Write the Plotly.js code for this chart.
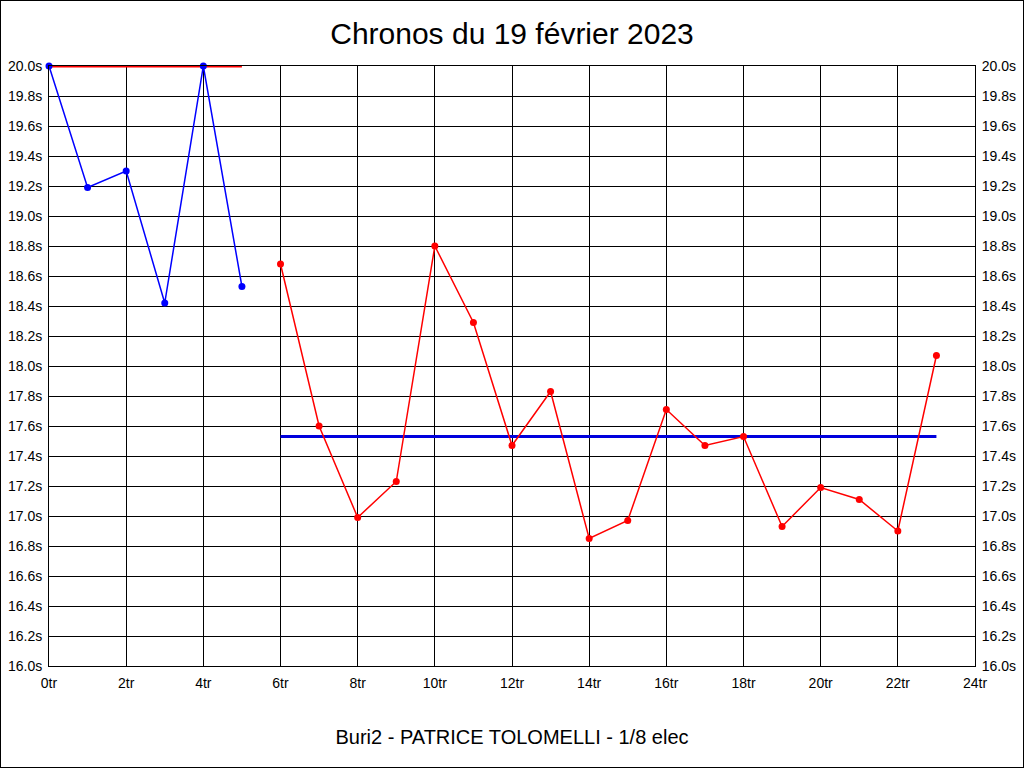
<!DOCTYPE html>
<html>
<head>
<meta charset="utf-8">
<script src="https://cdn.plot.ly/plotly-3.0.1.min.js"></script>
<style>
html,body{margin:0;padding:0;background:#fff;}
#wrap{position:relative;width:1024px;height:768px;}
#chart{width:1024px;height:768px;}
#frame{position:absolute;left:0;top:0;width:1022px;height:766px;border:1px solid #000;pointer-events:none;}
</style>
</head>
<body>
<div id="wrap"><div id="chart"></div><div id="frame"></div></div>
<script>
// Lap indices and times (seconds)
var firstLaps = [0, 1, 2, 3, 4, 5];
var firstTimes = [20.0, 19.19, 19.30, 18.42, 20.0, 18.53];
var mainLaps = [6, 7, 8, 9, 10, 11, 12, 13, 14, 15, 16, 17, 18, 19, 20, 21, 22, 23];
var mainTimes = [18.68, 17.60, 16.99, 17.23, 18.80, 18.29, 17.47, 17.83, 16.85, 16.97, 17.71, 17.47, 17.53, 16.93, 17.19, 17.11, 16.90, 18.07];
// Reference lines
var topLineX = [0, 5];
var topLineY = [20.0, 20.0];
var avgLineX = [6, 23];
var avgLineY = [17.53, 17.53];

var titleText = 'Chronos du 19 février 2023';
var xTitleText = 'Buri2 - PATRICE TOLOMELLI - 1/8 elec';
var yRange = [16, 20];
var xRange = [0, 24];

var font = 'Liberation Sans, Arial, sans-serif';

var traces = [
  {x: topLineX, y: topLineY, mode: 'lines', line: {color: '#ff0000', width: 3}, hoverinfo: 'skip', cliponaxis: false},
  {x: avgLineX, y: avgLineY, mode: 'lines', line: {color: '#0000dd', width: 3}, hoverinfo: 'skip'},
  {x: firstLaps, y: firstTimes, mode: 'lines+markers', line: {color: '#0000ff', width: 1.5}, marker: {color: '#0000ff', size: 7}, cliponaxis: false},
  {x: mainLaps, y: mainTimes, mode: 'lines+markers', line: {color: '#ff0000', width: 1.5}, marker: {color: '#ff0000', size: 7}, cliponaxis: false},
  {x: mainLaps, y: mainTimes, yaxis: 'y2', mode: 'markers', marker: {opacity: 0}, hoverinfo: 'skip', showlegend: false}
];

var yCommon = {
  range: yRange, dtick: 0.2, tick0: 16, tickformat: '.1f', ticksuffix: 's',
  showline: true, linecolor: '#000', linewidth: 1,
  ticks: 'outside', ticklen: 3, tickcolor: 'rgba(0,0,0,0)',
  tickfont: {family: font, size: 14, color: '#000'}, zeroline: false, fixedrange: true
};

var layout = {
  width: 1024, height: 768,
  margin: {l: 49, r: 49, t: 66, b: 102, pad: 0},
  paper_bgcolor: '#fff', plot_bgcolor: '#fff',
  showlegend: false,
  title: {text: titleText, font: {family: font, size: 30, color: '#000'}, x: 0.5, xanchor: 'center', y: 0.956, yanchor: 'middle'},
  xaxis: {
    range: xRange, dtick: 2, tick0: 0, ticksuffix: 'tr',
    showgrid: true, gridcolor: '#000', gridwidth: 1,
    showline: true, mirror: true, linecolor: '#000', linewidth: 1,
    ticks: 'outside', ticklen: 4, tickcolor: 'rgba(0,0,0,0)',
    tickfont: {family: font, size: 14, color: '#000'}, zeroline: false,
    title: {text: xTitleText, font: {family: font, size: 20, color: '#000'}, standoff: 40}
  },
  yaxis: Object.assign({}, yCommon, {showgrid: true, gridcolor: '#000', gridwidth: 1, mirror: true}),
  yaxis2: Object.assign({}, yCommon, {overlaying: 'y', side: 'right', showgrid: false, anchor: 'x'})
};

Plotly.newPlot('chart', traces, layout, {displayModeBar: false, staticPlot: true});
</script>
</body>
</html>
